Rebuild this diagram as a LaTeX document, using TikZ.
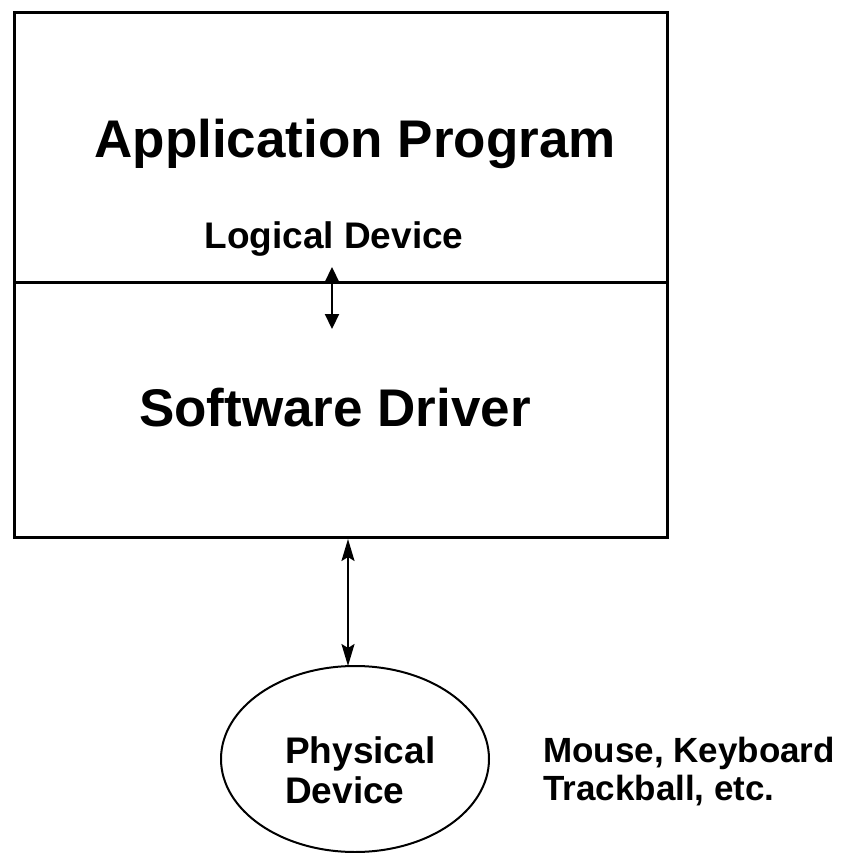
\documentclass[tikz,border=0pt]{standalone}
\usepackage{fontspec}
\setmainfont{Liberation Sans}
\usetikzlibrary{arrows.meta,shapes.geometric}
\begin{document}
\begin{tikzpicture}[x=1pt,y=-1pt,
  frame/.style={draw,line width=2.6pt,inner sep=0pt,anchor=north west},
  big/.style={font=\fontsize{53}{60}\selectfont\bfseries,inner sep=0pt,anchor=base},
  small/.style={font=\fontsize{37}{40}\selectfont\bfseries,inner sep=0pt,anchor=base},
  note/.style={font=\fontsize{35}{38}\selectfont\bfseries,inner sep=0pt,align=left,anchor=base west},
  shortlink/.style={line width=2.2pt,{Triangle[length=15pt,width=14pt]}-{Triangle[length=15pt,width=14pt]}},
  longlink/.style={line width=2.2pt,{Stealth[length=22pt,width=13pt,inset=4pt]}-{Stealth[length=22pt,width=13pt,inset=4pt]}}]
\useasboundingbox (0,0) rectangle (857,853);
% upper and lower halves of the stacked box
\node[frame,minimum width=653pt,minimum height=270pt] (app) at (13,11) {};
\node[frame,minimum width=653pt,minimum height=255pt] (drv) at (13,281) {};
\node[big] (apptxt) at (355,158) {Application Program};
\node[small] (logtxt) at (334,248) {Logical Device};
\node[big] (drvtxt) at (335,426) {Software Driver};
% the device itself
\node[ellipse,draw,line width=2pt,minimum width=268pt,minimum height=186pt,inner sep=0pt] (phys) at (355,759) {};
\node[small,align=left,anchor=base west] (phystxt) at (285,803) {Physical\\Device};
\node[note] (examples) at (543,800) {Mouse, Keyboard\\Trackball, etc.};
% connectors
\coordinate (ltop) at (332,267);
\coordinate (lbot) at (332,329);
\draw[shortlink] (ltop) -- (lbot);
\coordinate (ptop) at (348,539);
\coordinate (pbot) at (348,666);
\draw[longlink] (ptop) -- (pbot);
\end{tikzpicture}
\end{document}
